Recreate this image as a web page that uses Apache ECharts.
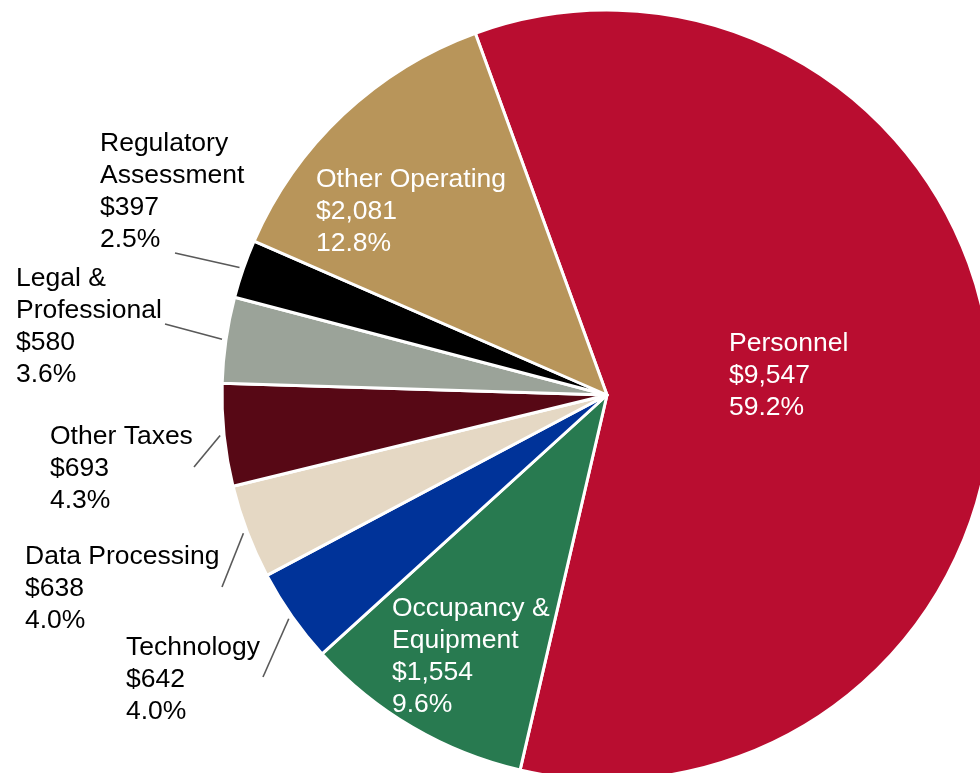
<!DOCTYPE html>
<html>
<head>
<meta charset="utf-8">
<title>Noninterest Expense</title>
<script src="https://cdn.jsdelivr.net/npm/echarts@6/dist/echarts.min.js"></script>
<style>
  html, body { margin: 0; padding: 0; background: #ffffff; }
  #chart { width: 980px; height: 773px; }
</style>
</head>
<body>
<div id="chart"></div>
<script>
// Expense categories (clockwise from the top), dollar amounts and printed shares
const categories = [
  'Personnel',
  'Occupancy &\nEquipment',
  'Technology',
  'Data Processing',
  'Other Taxes',
  'Legal &\nProfessional',
  'Regulatory\nAssessment',
  'Other Operating'
];
const amounts = [9547, 1554, 642, 638, 693, 580, 397, 2081];
const shareLabels = ['59.2%', '9.6%', '4.0%', '4.0%', '4.3%', '3.6%', '2.5%', '12.8%'];

const sliceColors = ['#B90D30', '#287A50', '#003399', '#E5D8C4', '#570815', '#9BA399', '#000000', '#B8955A'];

// Label placement: top-left corner of each text block; leader line end (inside = label sits on the slice)
const labelBoxes = [
  { x: 729, y: 327.5, inside: true },
  { x: 392, y: 592.5, inside: true },
  { x: 126, y: 632, lineEnd: [263, 677] },
  { x: 25,  y: 541, lineEnd: [222, 587] },
  { x: 50,  y: 421, lineEnd: [194, 467] },
  { x: 16,  y: 263, lineEnd: [165, 324] },
  { x: 100, y: 128, lineEnd: [175, 253] },
  { x: 316, y: 163.5, inside: true }
];

const CENTER = [607, 395];
const RADIUS = 385;

const chart = echarts.init(document.getElementById('chart'), null, { renderer: 'canvas' });

const seriesData = categories.map((name, i) => ({
  name: name,
  value: amounts[i],
  itemStyle: { color: sliceColors[i] },
  label: { color: labelBoxes[i].inside ? '#ffffff' : '#000000' },
  labelLine: { show: !labelBoxes[i].inside }
}));

chart.setOption({
  animation: false,
  backgroundColor: '#ffffff',
  series: [{
    type: 'pie',
    center: CENTER,
    radius: RADIUS,
    startAngle: 110,
    clockwise: true,
    avoidLabelOverlap: false,
    itemStyle: { borderColor: '#ffffff', borderWidth: 3 },
    label: {
      show: true,
      position: 'outside',
      fontFamily: '"Liberation Sans", Arial, sans-serif',
      fontSize: 26.5,
      lineHeight: 32,
      align: 'left',
      formatter: p => p.name + '\n$' + amounts[p.dataIndex].toLocaleString('en-US') + '\n' + shareLabels[p.dataIndex]
    },
    labelLine: {
      show: true,
      lineStyle: { color: '#595959', width: 1.6 }
    },
    labelLayout: params => {
      const box = labelBoxes[params.dataIndex];
      const out = { x: box.x, y: box.y, align: 'left', verticalAlign: 'top' };
      if (box.lineEnd && params.labelLinePoints) {
        const p0 = params.labelLinePoints[0];
        const dx = p0[0] - CENTER[0], dy = p0[1] - CENTER[1];
        const len = Math.sqrt(dx * dx + dy * dy) || 1;
        const start = [p0[0] + dx / len * 4, p0[1] + dy / len * 4];
        out.labelLinePoints = [start, box.lineEnd];
      }
      return out;
    },
    data: seriesData
  }]
});
</script>
</body>
</html>
